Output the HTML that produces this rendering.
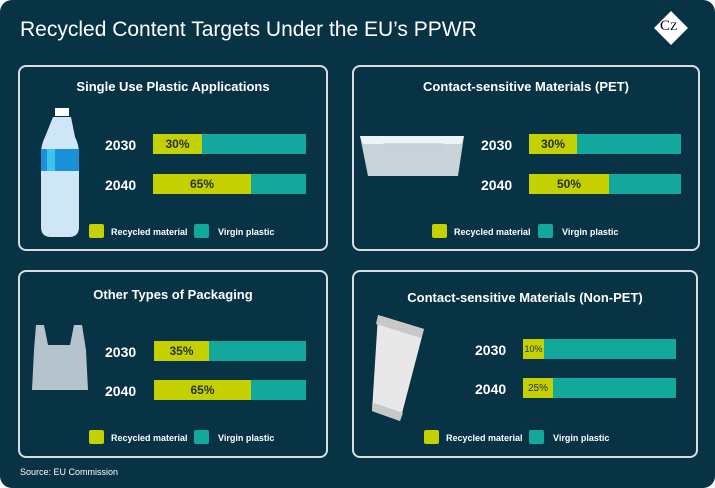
<!DOCTYPE html>
<html><head><meta charset="utf-8"><style>
*{margin:0;padding:0;box-sizing:border-box}
body{width:715px;height:488px;background:#fff;font-family:"Liberation Sans",sans-serif;position:relative;overflow:hidden}
.bg{position:absolute;left:0;top:0;width:715px;height:488px;background:#073345;border-radius:12px}
.t{position:absolute;left:20px;top:18px;color:#fff;font-size:21px;font-weight:400}
.p{position:absolute;border:2px solid #d8dde0;border-radius:8px}
.h{position:absolute;color:#fff;font-weight:bold;font-size:13px;text-align:center;width:100%}
.y{position:absolute;color:#fff;font-weight:bold;font-size:14px}
.bar{position:absolute;height:20px;background:#12a89c}
.bar div{height:100%;background:#c5d000;color:#233;font-weight:bold;font-size:12px;text-align:center;line-height:21px}
.lg{position:absolute;color:#fff;font-weight:bold;font-size:9px}
.sw{position:absolute;width:15px;height:14px;border-radius:2px}
.src{position:absolute;left:20px;top:467px;color:#fff;font-size:9px}
</style></head><body>
<div class="bg"></div>
<div class="t">Recycled Content Targets Under the EU’s PPWR</div>
<div style="position:absolute;left:659px;top:16px;width:24px;height:24px;background:#fff;transform:rotate(45deg)"></div>
<div style="position:absolute;left:660px;top:18px;font-family:'Liberation Serif',serif;font-size:15px;color:#000">C<span style="font-size:12px">Z</span></div>

<div class="p" style="left:18px;top:65px;width:310px;height:186px"><div class="h" style="top:12px">Single Use Plastic Applications</div></div>
<div class="p" style="left:352px;top:65px;width:348px;height:186px"><div class="h" style="top:12px">Contact-sensitive Materials (PET)</div></div>
<div class="p" style="left:18px;top:270px;width:310px;height:188px"><div class="h" style="top:15px">Other Types of Packaging</div></div>
<div class="p" style="left:352px;top:270px;width:346px;height:188px"><div class="h" style="top:18px">Contact-sensitive Materials (Non-PET)</div></div>

<svg style="position:absolute;left:35px;top:105px" width="50" height="135"><rect x="20" y="3" width="14" height="8" fill="#fff"/><path d="M18 12h18l4 20c4 8 4 14 4 20v70q0 10-10 10H16q-10 0-10-10V52c0-6 0-12 4-20z" fill="#cfe6f7"/><rect x="6" y="44" width="38" height="22" fill="#1a90d8"/><rect x="12" y="44" width="8" height="22" fill="#3cc4f0"/></svg>
<svg style="position:absolute;left:358px;top:128px" width="110" height="55"><path d="M2 8h104l-6 40H10z" fill="#dfe6ea" opacity=".9"/><path d="M2 8h104l-3 8H5z" fill="#eef3f5"/><rect x="25" y="15" width="60" height="10" fill="#c4ced4" opacity=".7"/></svg>
<svg style="position:absolute;left:30px;top:320px" width="60" height="75"><path d="M6 5l8 0 4 20h22l4-20h8l4 25 2 40H2L4 30z" fill="#d4dde4" opacity=".85"/></svg>
<svg style="position:absolute;left:370px;top:313px" width="60" height="110"><path d="M8 2l46 14-24 92-28-10z" fill="#e8e8e8"/><path d="M8 2l46 14-3 9-45-14zM2 98l28 10 3-8-29-10z" fill="#c8c8c8"/></svg>

<div class="y" style="left:105px;top:137px">2030</div><div class="y" style="left:105px;top:177px">2040</div>
<div class="bar" style="left:153px;top:134px;width:153px"><div style="width:49px">30%</div></div>
<div class="bar" style="left:153px;top:174px;width:153px"><div style="width:98px">65%</div></div>
<div class="sw" style="left:89px;top:224px;background:#c5d000"></div><div class="lg" style="left:111px;top:227px">Recycled material</div>
<div class="sw" style="left:194px;top:224px;background:#12a89c"></div><div class="lg" style="left:218px;top:227px">Virgin plastic</div>

<div class="y" style="left:481px;top:137px">2030</div><div class="y" style="left:481px;top:177px">2040</div>
<div class="bar" style="left:529px;top:134px;width:152px"><div style="width:48px">30%</div></div>
<div class="bar" style="left:529px;top:174px;width:152px"><div style="width:80px">50%</div></div>
<div class="sw" style="left:432px;top:224px;background:#c5d000"></div><div class="lg" style="left:454px;top:227px">Recycled material</div>
<div class="sw" style="left:538px;top:224px;background:#12a89c"></div><div class="lg" style="left:562px;top:227px">Virgin plastic</div>

<div class="y" style="left:105px;top:344px">2030</div><div class="y" style="left:105px;top:383px">2040</div>
<div class="bar" style="left:154px;top:341px;width:152px"><div style="width:55px">35%</div></div>
<div class="bar" style="left:154px;top:380px;width:152px"><div style="width:97px">65%</div></div>
<div class="sw" style="left:89px;top:430px;background:#c5d000"></div><div class="lg" style="left:111px;top:433px">Recycled material</div>
<div class="sw" style="left:194px;top:430px;background:#12a89c"></div><div class="lg" style="left:218px;top:433px">Virgin plastic</div>

<div class="y" style="left:475px;top:342px">2030</div><div class="y" style="left:475px;top:381px">2040</div>
<div class="bar" style="left:523px;top:339px;width:153px"><div style="width:21px;font-size:9px;font-weight:normal">10%</div></div>
<div class="bar" style="left:523px;top:378px;width:153px"><div style="width:30px;font-size:10px;font-weight:normal">25%</div></div>
<div class="sw" style="left:424px;top:430px;background:#c5d000"></div><div class="lg" style="left:446px;top:433px">Recycled material</div>
<div class="sw" style="left:529px;top:430px;background:#12a89c"></div><div class="lg" style="left:553px;top:433px">Virgin plastic</div>

<div class="src">Source: EU Commission</div>
</body></html>
